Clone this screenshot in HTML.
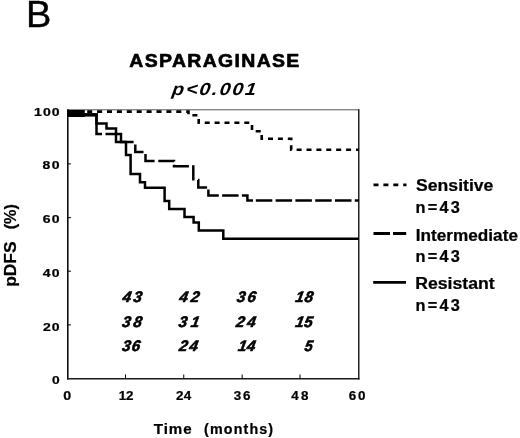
<!DOCTYPE html>
<html lang="en"><head><meta charset="utf-8"><title>ASPARAGINASE pDFS</title>
<style>html,body{margin:0;padding:0;background:#fff}svg{display:block;font-family:"Liberation Sans",sans-serif}</style></head><body>
<svg width="520" height="438" viewBox="0 0 520 438">
<rect width="520" height="438" fill="#fff"/>
<defs><filter id="soft" x="-2%" y="-2%" width="104%" height="104%"><feGaussianBlur stdDeviation="0.45"/></filter></defs>
<g filter="url(#soft)">
<path d="M67.8,109.8 H358.8" stroke="#444" stroke-width="0.9" fill="none"/>
<path d="M358.8,109.2 V379.6" stroke="#000" stroke-width="1.3" fill="none"/>
<path d="M67.8,109.2 V379.6" stroke="#000" stroke-width="1.5" fill="none"/>
<path d="M67,378.8 H359.4" stroke="#1a1a1a" stroke-width="1.4" fill="none"/>
<path d="M125.5,374.5 V378.8 M183.75,374.5 V378.8 M242.2,374.5 V378.8 M300,374.5 V378.8 M67.8,163.9 H71 M67.8,217.7 H71 M67.8,271.2 H71 M67.8,324.9 H71 " stroke="#000" stroke-width="1" fill="none"/>
<rect x="67" y="110" width="17.8" height="7" fill="#000"/>
<path d="M84,114.7 H97.8" stroke="#000" stroke-width="3.2" fill="none"/>
<path d="M67.4,111.6 H188.5 V115.3 H198.7 V122.8 H252 V131.2 H261.7 V138.7 H291.2 V149.7 H358.8" stroke="#000" stroke-width="2.6" stroke-dasharray="5 4.9" fill="none"/>
<path d="M67.5,115 H96.5 V134 H102 M105.5,134 H121 V142 H133.6 M135.3,144.4 V152 H143.5 M145.5,154 V160.9 H154.6 M158.3,160.9 H174 V161.5 M174,164.8 V166.2 H188.9 M193.3,165.2 V180.6 M198,180 H198.3 V187.4 H207.1 M208.4,189.4 V195.5 H218.8 M222.1,195.5 H238.6 M241.9,195.5 H247.4 V200.4 H253 M255.8,200.4 H272.3 M275.6,200.4 H292.1 M295.4,200.4 H311.9 M315.2,200.4 H331.7 M335,200.4 H351.5 M354.8,200.4 H358.8" stroke="#000" stroke-width="2.5" fill="none"/>
<path d="M67.5,115 H96.5 V123.5 H106.5 V128.5 H116 V142 H126 V155 H130.6 V174 H140 V182.3 H145 V187.8 H164.6 V201.1 H169.2 V208.9 H184.5 V217 H193.6 V222.4 H198.8 V230.4 H223.3 V238.7 H358.8" stroke="#000" stroke-width="2.5" stroke-linejoin="miter" fill="none"/>
<path d="M373.5,184.9 H406.5" stroke="#000" stroke-width="2.9" stroke-dasharray="5 4.9" fill="none"/>
<path d="M373.5,233.5 H390 M393,233.5 H406.2" stroke="#000" stroke-width="2.8" fill="none"/>
<path d="M373.2,282.4 H406" stroke="#000" stroke-width="2.7" fill="none"/>
<text transform="translate(26.02,26.60) scale(1.0278,1)" font-size="37" font-weight="normal" fill="#050505" stroke="#050505" stroke-width="0.389" stroke-linejoin="round">B</text>
<text transform="translate(129.36,67.00) scale(1.1100,1)" font-size="17.5" font-weight="bold" letter-spacing="1.228" fill="#050505" stroke="#050505" stroke-width="0.631" stroke-linejoin="round">ASPARAGINASE</text>
<text transform="translate(171.54,95.30) skewX(-8) scale(1.1200,1)" font-size="17.5" font-weight="bold" font-style="italic" letter-spacing="1.701" fill="#050505">p&lt;0.001</text>
<text transform="translate(34.11,115.60) scale(1.2200,1)" font-size="11.5" font-weight="bold" letter-spacing="0.846" fill="#050505" stroke="#050505" stroke-width="0.246" stroke-linejoin="round">100</text>
<text transform="translate(42.49,169.30) scale(1.2200,1)" font-size="11.5" font-weight="bold" letter-spacing="1.259" fill="#050505" stroke="#050505" stroke-width="0.246" stroke-linejoin="round">80</text>
<text transform="translate(42.82,223.10) scale(1.2200,1)" font-size="11.5" font-weight="bold" letter-spacing="0.994" fill="#050505" stroke="#050505" stroke-width="0.246" stroke-linejoin="round">60</text>
<text transform="translate(42.72,276.90) scale(1.2200,1)" font-size="11.5" font-weight="bold" letter-spacing="1.072" fill="#050505" stroke="#050505" stroke-width="0.246" stroke-linejoin="round">40</text>
<text transform="translate(42.89,330.60) scale(1.2200,1)" font-size="11.5" font-weight="bold" letter-spacing="0.931" fill="#050505" stroke="#050505" stroke-width="0.246" stroke-linejoin="round">20</text>
<text transform="translate(51.92,384.10) scale(1.2000,1)" font-size="11.5" font-weight="bold" fill="#050505" stroke="#050505" stroke-width="0.250" stroke-linejoin="round">0</text>
<text transform="translate(63.20,400.00) scale(1.1913,1)" font-size="12" font-weight="bold" fill="#050505" stroke="#050505" stroke-width="0.210" stroke-linejoin="round">0</text>
<text transform="translate(118.78,400.00) scale(1.1200,1)" font-size="12" font-weight="bold" letter-spacing="-0.295" fill="#050505" stroke="#050505" stroke-width="0.223" stroke-linejoin="round">12</text>
<text transform="translate(175.88,400.00) scale(1.1200,1)" font-size="12" font-weight="bold" letter-spacing="0.295" fill="#050505" stroke="#050505" stroke-width="0.223" stroke-linejoin="round">24</text>
<text transform="translate(233.65,400.00) scale(1.1200,1)" font-size="12" font-weight="bold" letter-spacing="1.732" fill="#050505" stroke="#050505" stroke-width="0.223" stroke-linejoin="round">36</text>
<text transform="translate(291.31,400.00) scale(1.1200,1)" font-size="12" font-weight="bold" letter-spacing="2.054" fill="#050505" stroke="#050505" stroke-width="0.223" stroke-linejoin="round">48</text>
<text transform="translate(348.83,400.00) scale(1.1200,1)" font-size="12" font-weight="bold" letter-spacing="1.625" fill="#050505" stroke="#050505" stroke-width="0.223" stroke-linejoin="round">60</text>
<text transform="translate(153.69,434.20) scale(1.0800,1)" font-size="14" font-weight="bold" letter-spacing="0.924" fill="#050505" stroke="#050505" stroke-width="0.231" stroke-linejoin="round">Time</text>
<text transform="translate(204.02,434.20) scale(1.0200,1)" font-size="14" font-weight="bold" letter-spacing="1.132" fill="#050505" stroke="#050505" stroke-width="0.245" stroke-linejoin="round">(months)</text>
<text transform="translate(15.80,286.85) rotate(-90) scale(1.0240,1)" font-size="17" font-weight="bold" fill="#050505" stroke="#050505" stroke-width="0.244" stroke-linejoin="round">pDFS</text>
<text transform="translate(15.80,229.37) rotate(-90) scale(0.9535,1)" font-size="17" font-weight="bold" fill="#050505" stroke="#050505" stroke-width="0.210" stroke-linejoin="round">(%)</text>
<text transform="translate(416.04,191.30) scale(1.1015,1)" font-size="16" font-weight="bold" fill="#050505" stroke="#050505" stroke-width="0.227" stroke-linejoin="round">Sensitive</text>
<text transform="translate(415.54,212.90) scale(1.0200,1)" font-size="16" font-weight="bold" letter-spacing="2.188" fill="#050505" stroke="#050505" stroke-width="0.245" stroke-linejoin="round">n=43</text>
<text transform="translate(415.78,240.80) scale(1.0747,1)" font-size="16" font-weight="bold" fill="#050505" stroke="#050505" stroke-width="0.233" stroke-linejoin="round">Intermediate</text>
<text transform="translate(415.54,262.40) scale(1.0200,1)" font-size="16" font-weight="bold" letter-spacing="2.188" fill="#050505" stroke="#050505" stroke-width="0.245" stroke-linejoin="round">n=43</text>
<text transform="translate(415.25,289.40) scale(1.1032,1)" font-size="16" font-weight="bold" fill="#050505" stroke="#050505" stroke-width="0.227" stroke-linejoin="round">Resistant</text>
<text transform="translate(415.54,310.80) scale(1.0200,1)" font-size="16" font-weight="bold" letter-spacing="2.188" fill="#050505" stroke="#050505" stroke-width="0.245" stroke-linejoin="round">n=43</text>
<text transform="translate(122.05,302.00) skewX(-10) scale(1.0000,1)" font-size="15.3" font-weight="bold" font-style="italic" letter-spacing="2.106" fill="#050505" stroke="#050505" stroke-width="0.600" stroke-linejoin="round">43</text>
<text transform="translate(178.75,302.00) skewX(-10) scale(1.0000,1)" font-size="15.3" font-weight="bold" font-style="italic" letter-spacing="2.906" fill="#050505" stroke="#050505" stroke-width="0.600" stroke-linejoin="round">42</text>
<text transform="translate(236.18,302.00) skewX(-10) scale(1.0000,1)" font-size="15.3" font-weight="bold" font-style="italic" letter-spacing="2.131" fill="#050505" stroke="#050505" stroke-width="0.600" stroke-linejoin="round">36</text>
<text transform="translate(294.85,302.00) skewX(-10) scale(1.0000,1)" font-size="15.3" font-weight="bold" font-style="italic" letter-spacing="0.681" fill="#050505" stroke="#050505" stroke-width="0.600" stroke-linejoin="round">18</text>
<text transform="translate(121.47,326.70) skewX(-10) scale(1.0000,1)" font-size="15.3" font-weight="bold" font-style="italic" letter-spacing="2.856" fill="#050505" stroke="#050505" stroke-width="0.600" stroke-linejoin="round">38</text>
<text transform="translate(177.98,326.70) skewX(-10) scale(1.0000,1)" font-size="15.3" font-weight="bold" font-style="italic" letter-spacing="3.706" fill="#050505" stroke="#050505" stroke-width="0.600" stroke-linejoin="round">31</text>
<text transform="translate(235.55,326.70) skewX(-10) scale(1.0000,1)" font-size="15.3" font-weight="bold" font-style="italic" letter-spacing="2.468" fill="#050505" stroke="#050505" stroke-width="0.600" stroke-linejoin="round">24</text>
<text transform="translate(294.85,326.70) skewX(-10) scale(1.0000,1)" font-size="15.3" font-weight="bold" font-style="italic" letter-spacing="0.231" fill="#050505" stroke="#050505" stroke-width="0.600" stroke-linejoin="round">15</text>
<text transform="translate(121.42,351.20) skewX(-10) scale(1.0000,1)" font-size="15.3" font-weight="bold" font-style="italic" letter-spacing="1.131" fill="#050505" stroke="#050505" stroke-width="0.600" stroke-linejoin="round">36</text>
<text transform="translate(178.55,351.20) skewX(-10) scale(1.0000,1)" font-size="15.3" font-weight="bold" font-style="italic" letter-spacing="1.818" fill="#050505" stroke="#050505" stroke-width="0.600" stroke-linejoin="round">24</text>
<text transform="translate(237.55,351.20) skewX(-10) scale(1.0000,1)" font-size="15.3" font-weight="bold" font-style="italic" letter-spacing="0.318" fill="#050505" stroke="#050505" stroke-width="0.600" stroke-linejoin="round">14</text>
<text transform="translate(303.93,351.20) skewX(-10) scale(0.9423,1)" font-size="15.3" font-weight="bold" font-style="italic" fill="#050505" stroke="#050505" stroke-width="0.637" stroke-linejoin="round">5</text>
</g>
</svg></body></html>
